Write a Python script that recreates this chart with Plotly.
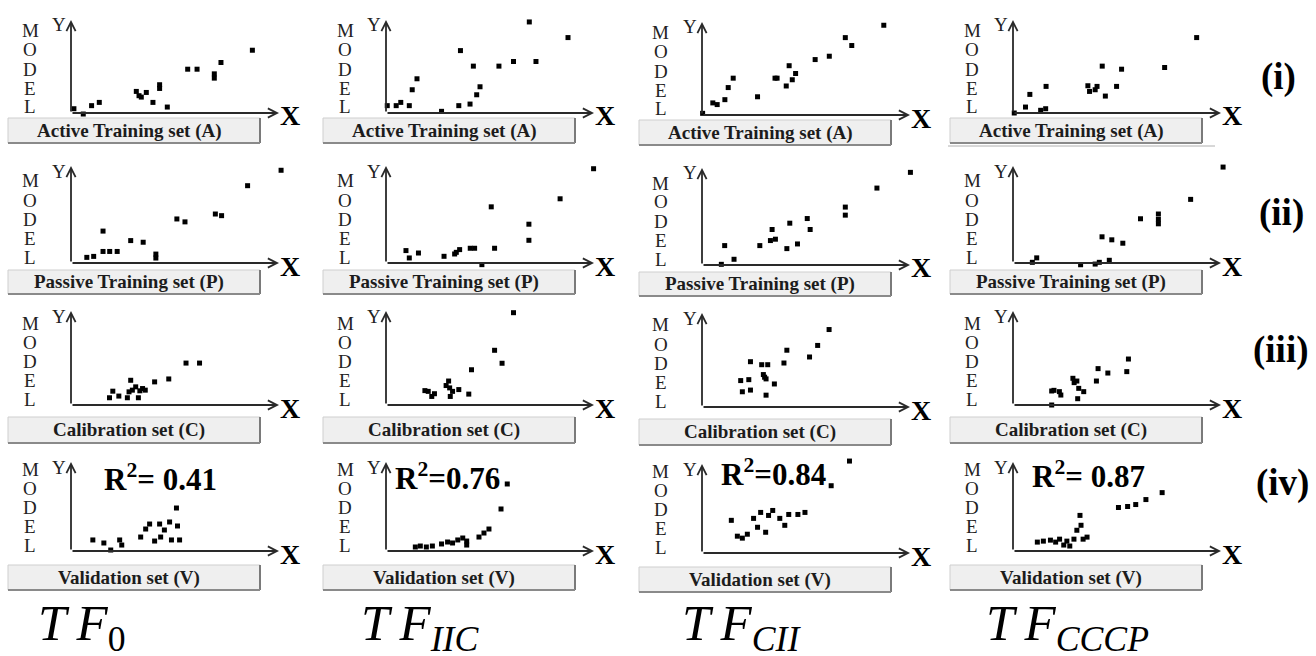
import plotly.graph_objects as go

FIG_W, FIG_H = 1316, 656

# ---------------- labels ----------------
row_names = ["Active Training set (A)", "Passive Training set (P)",
             "Calibration set (C)", "Validation set (V)"]
row_tags = ["(i)", "(ii)", "(iii)", "(iv)"]
col_names = ["<i>T\u2009F</i><sub>0</sub>", "<i>T\u2009F</i><sub><i>IIC</i></sub>",
             "<i>T\u2009F</i><sub><i>CII</i></sub>", "<i>T\u2009F</i><sub><i>CCCP</i></sub>"]
r2_labels = ["R<sup>2</sup>= 0.41", "R<sup>2</sup>=0.76", "R<sup>2</sup>=0.84", "R<sup>2</sup>= 0.87"]

# ---------------- data (model axes scaled 0..100) ----------------
tf0_active_x = [1.4, 5.9, 9.9, 13.6, 31.4, 32.7, 33.8, 36.2, 39.4, 42.6, 42.6, 46.3, 56.1, 60.6, 68.9, 68.9, 72.1, 87.2]
tf0_active_y = [4.6, -1.1, 7.9, 11.4, 23.2, 18.6, 17.1, 22.1, 11.4, 30.4, 26.4, 6.4, 47.1, 47.1, 42.1, 37.5, 54.3, 67.5]
iic_active_x = [0.6, 4.9, 7.1, 11.2, 12.6, 14.9, 26.7, 35.0, 35.8, 40.4, 42.0, 43.6, 45.2, 54.3, 61.3, 68.9, 72.1, 87.5]
iic_active_y = [7.9, 7.9, 11.4, 7.9, 25.0, 36.8, 1.8, 7.9, 67.1, 9.6, 50.4, 19.6, 28.2, 50.4, 55.4, 97.9, 55.4, 81.1]
cii_active_x = [0.3, 5.2, 7.3, 11.0, 12.6, 15.0, 26.7, 35.1, 36.1, 40.5, 41.9, 43.4, 45.0, 54.4, 61.2, 68.9, 72.0, 87.4]
cii_active_y = [1.8, 13.0, 11.2, 16.5, 29.5, 39.6, 19.6, 39.6, 39.6, 31.2, 53.0, 37.9, 44.6, 59.6, 63.2, 83.2, 74.7, 96.5]
cccp_active_x = [0.6, 6.0, 8.1, 13.3, 15.7, 15.9, 36.0, 36.8, 39.5, 40.4, 42.9, 44.4, 49.8, 52.2, 72.9, 88.3]
cccp_active_y = [0.0, 6.4, 20.0, 2.9, 4.6, 28.6, 29.3, 23.2, 25.0, 28.6, 50.4, 18.2, 28.6, 47.1, 48.9, 81.1]

tf0_passive_x = [7.6, 10.9, 15.4, 15.4, 18.6, 22.2, 28.7, 34.7, 40.8, 40.8, 50.9, 54.8, 69.4, 72.4, 84.9, 101.0]
tf0_passive_y = [5.8, 6.8, 32.9, 11.9, 11.9, 11.9, 23.1, 21.4, 9.2, 5.1, 45.4, 42.4, 50.5, 48.8, 79.7, 95.6]
iic_passive_x = [9.6, 11.2, 15.6, 27.9, 33.0, 33.8, 35.4, 40.5, 42.6, 46.1, 50.6, 52.2, 68.7, 68.7, 83.7, 99.8]
iic_passive_y = [12.8, 5.2, 10.3, 6.9, 9.3, 11.0, 13.8, 15.2, 15.2, -1.7, 57.9, 15.2, 40.0, 23.4, 66.2, 97.2]
cii_passive_x = [9.3, 10.9, 15.4, 27.8, 32.9, 33.7, 35.3, 40.8, 42.2, 45.9, 50.6, 52.0, 68.9, 68.9, 84.1, 100.2]
cii_passive_y = [0.7, 20.0, 5.9, 20.0, 25.2, 36.6, 26.6, 16.9, 43.1, 21.7, 47.9, 36.6, 59.7, 51.4, 79.3, 95.5]
cccp_passive_x = [9.3, 11.4, 32.5, 39.5, 41.5, 46.3, 42.8, 47.5, 52.8, 61.3, 69.9, 69.9, 69.9, 85.4, 101.0]
cccp_passive_y = [0.7, 5.3, -1.8, -1.1, 0.7, 2.8, 27.0, 23.9, 20.4, 45.6, 50.5, 44.9, 40.4, 65.6, 98.9]

tf0_calib_x = [18.5, 20.1, 23.0, 27.1, 27.9, 28.7, 29.5, 31.1, 32.4, 33.1, 34.4, 35.7, 40.2, 47.0, 55.3, 61.8]
tf0_calib_y = [7.7, 14.7, 9.5, 7.7, 14.0, 26.3, 15.8, 19.3, 7.7, 15.1, 17.5, 15.8, 24.6, 27.7, 44.6, 44.6]
iic_calib_x = [18.7, 20.3, 22.0, 23.3, 28.9, 30.1, 30.6, 30.9, 32.0, 35.0, 39.8, 41.1, 52.2, 55.8, 61.3]
iic_calib_y = [15.3, 14.5, 9.1, 12.0, 20.7, 25.5, 18.2, 9.1, 14.5, 16.4, 11.6, 37.5, 58.2, 44.4, 98.2]
cii_calib_x = [18.6, 19.4, 22.5, 23.3, 23.3, 28.7, 29.5, 30.1, 30.8, 31.6, 30.8, 34.8, 39.4, 40.8, 51.7, 55.6, 61.1]
cii_calib_y = [28.1, 16.2, 29.1, 48.2, 18.0, 45.0, 34.5, 31.7, 29.9, 45.0, 12.6, 24.5, 46.8, 60.4, 53.2, 65.5, 82.4]
cccp_calib_x = [18.6, 18.6, 19.7, 22.3, 23.0, 28.8, 29.4, 30.7, 31.6, 31.1, 34.0, 40.1, 40.9, 45.6, 54.7, 55.5]
cccp_calib_y = [0.0, 14.9, 15.6, 14.2, 10.6, 28.4, 23.8, 25.5, 17.7, 6.7, 14.2, 25.5, 38.7, 34.0, 35.5, 48.9]

tf0_valid_x = [10.5, 15.8, 19.1, 23.4, 24.4, 33.5, 35.9, 37.8, 40.2, 42.6, 43.1, 44.9, 47.4, 48.3, 50.7, 51.2, 52.2]
tf0_valid_y = [12.4, 9.0, 1.1, 12.4, 6.7, 15.7, 24.7, 30.3, 11.2, 30.3, 15.7, 23.6, 32.6, 12.4, 48.3, 28.1, 12.4]
iic_valid_x = [14.1, 16.5, 19.4, 22.3, 26.7, 29.6, 32.0, 34.5, 36.9, 38.8, 38.8, 44.7, 47.1, 49.5, 55.3, 58.3]
iic_valid_y = [4.5, 5.6, 4.5, 5.6, 7.9, 10.1, 9.0, 12.4, 14.6, 11.2, 6.7, 15.7, 20.2, 24.7, 47.2, 75.3]
cii_valid_x = [14.1, 17.0, 19.4, 21.8, 24.8, 26.7, 28.2, 30.6, 32.0, 34.0, 37.4, 39.8, 41.7, 46.1, 49.5, 62.1, 70.9]
cii_valid_y = [36.7, 18.9, 16.7, 21.1, 38.9, 28.9, 45.6, 23.3, 42.2, 47.8, 38.9, 31.1, 43.3, 43.3, 45.6, 75.6, 103.3]
cccp_valid_x = [11.7, 14.6, 18.0, 20.5, 22.4, 24.4, 25.9, 27.3, 29.3, 30.7, 32.7, 33.7, 35.6, 32.2, 50.7, 55.1, 59.0, 63.9, 71.7]
cccp_valid_y = [10.0, 11.1, 12.2, 10.0, 13.3, 6.7, 11.1, 5.6, 13.3, 23.3, 28.9, 13.3, 15.6, 40.0, 48.9, 50.0, 52.2, 57.8, 65.6]

panels = [
    [(tf0_active_x, tf0_active_y), (iic_active_x, iic_active_y), (cii_active_x, cii_active_y), (cccp_active_x, cccp_active_y)],
    [(tf0_passive_x, tf0_passive_y), (iic_passive_x, iic_passive_y), (cii_passive_x, cii_passive_y), (cccp_passive_x, cccp_passive_y)],
    [(tf0_calib_x, tf0_calib_y), (iic_calib_x, iic_calib_y), (cii_calib_x, cii_calib_y), (cccp_calib_x, cccp_calib_y)],
    [(tf0_valid_x, tf0_valid_y), (iic_valid_x, iic_valid_y), (cii_valid_x, cii_valid_y), (cccp_valid_x, cccp_valid_y)],
]

# ---------------- layout geometry (pixels) ----------------
COL_X0 = [71, 386, 702, 1013]
COL_DY = [0, 0, 2, 0]
ROW_Y0 = [113, 263, 405, 551]
ROW_H = [93, 97, 94, 89]
AX_W = 208
PAD = 10  # data-unit padding so points slightly outside 0..100 stay visible
BOX_OFF = [(5, 30), (7, 31), (12, 38), (14, 39)]
SERIF = "Liberation Serif"
INK = "#222222"


def fx(p):
    return p / FIG_W


def fy(p):
    return 1 - p / FIG_H


fig = go.Figure()
layout = {}
annotations = []
shapes = []

for r in range(4):
    for c in range(4):
        k = r * 4 + c + 1
        xa = "x" if k == 1 else f"x{k}"
        ya = "y" if k == 1 else f"y{k}"
        ox = COL_X0[c]
        oy = ROW_Y0[r] + COL_DY[c]
        h = ROW_H[r]
        sx = AX_W / 100.0
        sy = h / 100.0
        layout["xaxis" if k == 1 else f"xaxis{k}"] = dict(
            domain=[fx(ox - PAD * sx), fx(ox + (100 + PAD) * sx)],
            range=[-PAD, 100 + PAD], visible=False, anchor=ya, fixedrange=True)
        layout["yaxis" if k == 1 else f"yaxis{k}"] = dict(
            domain=[fy(oy + PAD * sy), fy(oy - (100 + PAD) * sy)],
            range=[-PAD, 100 + PAD], visible=False, anchor=xa, fixedrange=True)
        xs, ys = panels[r][c]
        fig.add_trace(go.Scatter(
            x=xs, y=ys, mode="markers", xaxis=xa, yaxis=ya,
            marker=dict(symbol="square", size=5, color="black", line=dict(width=0)),
            cliponaxis=False, showlegend=False, hoverinfo="skip"))
        # axis arrows
        for (hx, hy) in [(100, 0), (0, 100)]:
            annotations.append(dict(
                x=hx, y=hy, ax=0, ay=0, xref=xa, yref=ya, axref=xa, ayref=ya,
                text="", showarrow=True, arrowhead=5, arrowsize=1.0,
                arrowwidth=1.8, arrowcolor="#2a2a2a", standoff=0, startstandoff=0))
        # MODEL letters
        for i, ch in enumerate("MODEL"):
            annotations.append(dict(
                x=fx(ox - 41), y=fy(oy - 82 + 19 * i), xref="paper", yref="paper",
                text=ch, showarrow=False, xanchor="center", yanchor="middle",
                font=dict(family=SERIF, size=19, color=INK)))
        # Y label
        annotations.append(dict(
            x=fx(ox - 12), y=fy(oy - h + 5), xref="paper", yref="paper",
            text="Y", showarrow=False, xanchor="center", yanchor="middle",
            font=dict(family=SERIF, size=19, color=INK)))
        # X label
        annotations.append(dict(
            x=fx(ox + 219), y=fy(oy + 3), xref="paper", yref="paper",
            text="<b>X</b>", showarrow=False, xanchor="center", yanchor="middle",
            font=dict(family=SERIF, size=28, color="black")))
        # label box
        bt, bb = BOX_OFF[r]
        x0b, x1b = ox - 63, ox + 189
        shapes.append(dict(type="rect", xref="paper", yref="paper",
                           x0=fx(x0b), x1=fx(x1b), y0=fy(oy + bb), y1=fy(oy + bt),
                           fillcolor="#efefef", line=dict(color="#cfcfcf", width=1), layer="below"))
        shapes.append(dict(type="line", xref="paper", yref="paper",
                           x0=fx(x1b), x1=fx(x1b), y0=fy(oy + bb), y1=fy(oy + bt),
                           line=dict(color="#7a7a7a", width=2)))
        shapes.append(dict(type="line", xref="paper", yref="paper",
                           x0=fx(x0b), x1=fx(x1b), y0=fy(oy + bb), y1=fy(oy + bb),
                           line=dict(color="#8a8a8a", width=2)))
        annotations.append(dict(
            x=fx((x0b + x1b) / 2 - 5), y=fy(oy + (bt + bb) / 2), xref="paper", yref="paper",
            text=f"<b>{row_names[r]}</b>", showarrow=False, xanchor="center", yanchor="middle",
            font=dict(family=SERIF, size=19, color="#1c1c1c")))

# thin rule under first row, last column
shapes.append(dict(type="line", xref="paper", yref="paper",
                   x0=fx(948), x1=fx(1215), y0=fy(146), y1=fy(146),
                   line=dict(color="#b0b0b0", width=1)))

# R^2 annotations
r2_pos = [(160, 477), (447, 476), (773, 472), (1088, 474)]
for (px_, py_), lab in zip(r2_pos, r2_labels):
    annotations.append(dict(
        x=fx(px_), y=fy(py_), xref="paper", yref="paper", text=f"<b>{lab}</b>",
        showarrow=False, xanchor="center", yanchor="middle",
        font=dict(family=SERIF, size=31, color="black")))

# row tags
tag_pos = [(1278, 77), (1281, 213), (1280, 350), (1282, 483)]
for (px_, py_), lab in zip(tag_pos, row_tags):
    annotations.append(dict(
        x=fx(px_), y=fy(py_), xref="paper", yref="paper", text=f"<b>{lab}</b>",
        showarrow=False, xanchor="center", yanchor="middle",
        font=dict(family=SERIF, size=37, color="black")))

# column titles
col_pos = [(82, 627), (420, 627), (741, 627), (1067, 627)]
for (px_, py_), lab in zip(col_pos, col_names):
    annotations.append(dict(
        x=fx(px_), y=fy(py_), xref="paper", yref="paper", text=lab,
        showarrow=False, xanchor="center", yanchor="middle",
        font=dict(family=SERIF, size=51, color="black")))

fig.update_layout(**layout)
fig.update_layout(
    width=FIG_W, height=FIG_H, margin=dict(l=0, r=0, t=0, b=0),
    paper_bgcolor="white", plot_bgcolor="rgba(0,0,0,0)",
    annotations=annotations, shapes=shapes, showlegend=False)

fig.write_html("out.html", post_script="document.body.style.margin='0';",
               config={"displayModeBar": False})
